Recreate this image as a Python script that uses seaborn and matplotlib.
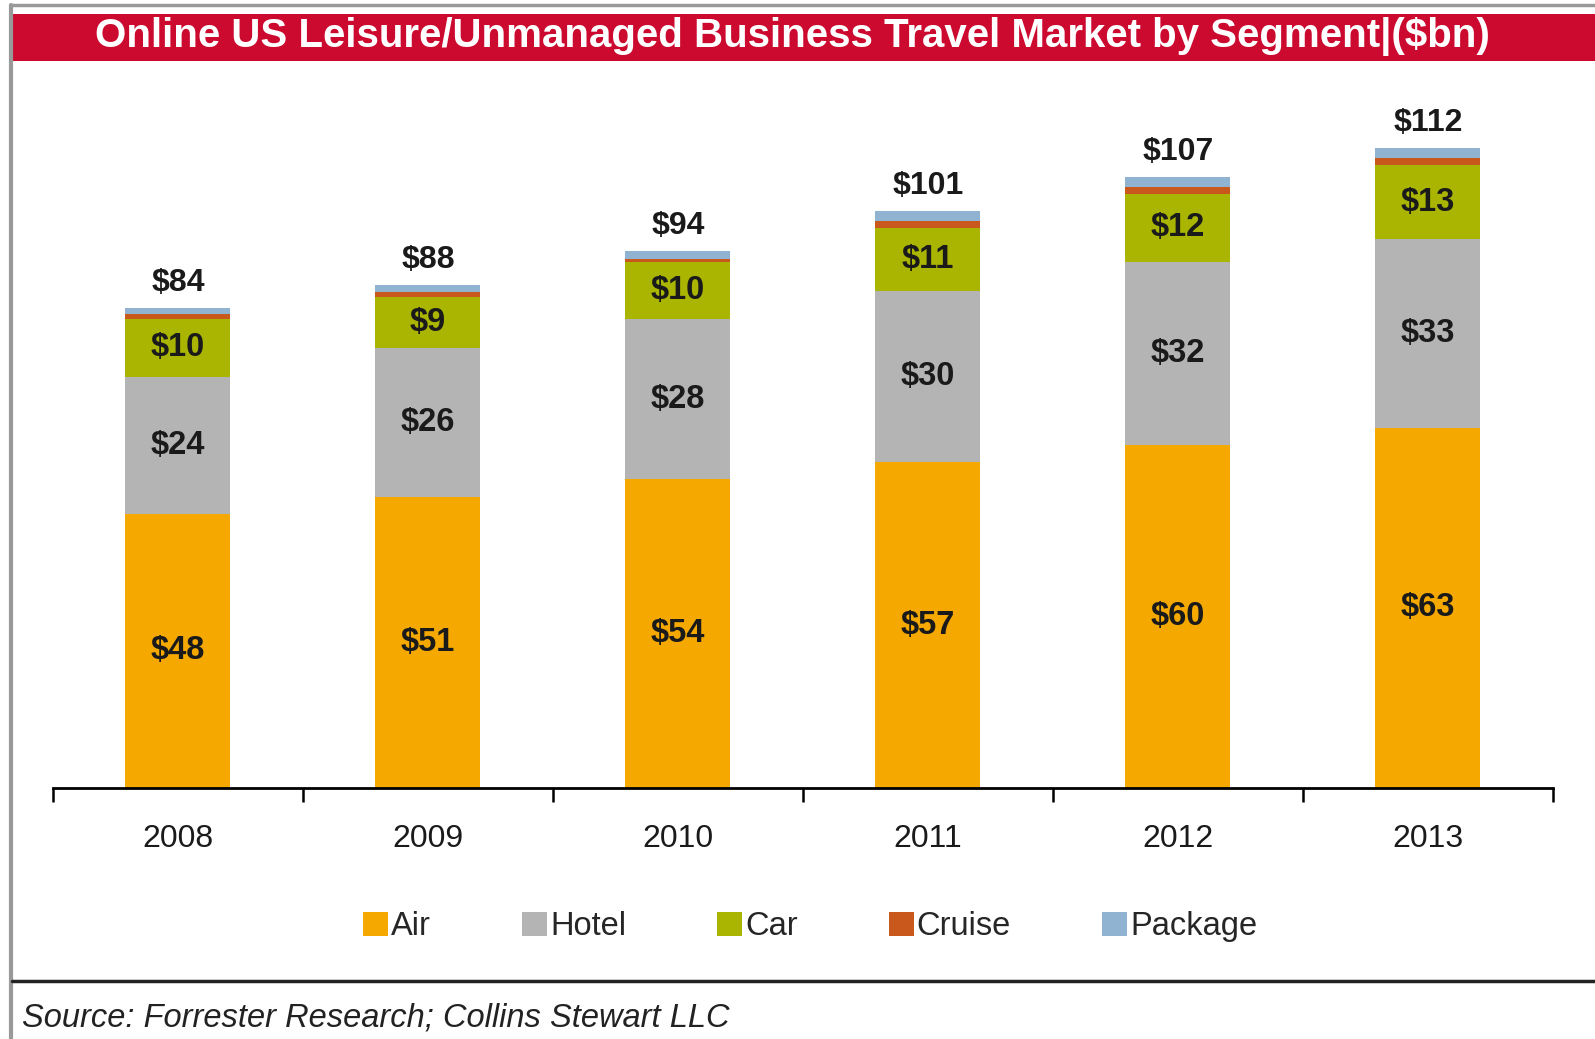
import numpy as np
import pandas as pd
import seaborn as sns
import matplotlib
matplotlib.use('Agg')
import matplotlib.pyplot as plt
from matplotlib.patches import Patch, Rectangle
from matplotlib.lines import Line2D

# data ($bn)
years = ['2008', '2009', '2010', '2011', '2012', '2013']
air = [48, 51, 54, 57, 60, 63]
hotel = [24, 26, 28, 30, 32, 33]
car = [10, 9, 10, 11, 12, 13]
cruise = [0.9, 0.8, 0.5, 1.3, 1.2, 1.3]
package = [1.1, 1.2, 1.5, 1.7, 1.8, 1.7]
totals = [84, 88, 94, 101, 107, 112]

segments = ['Air', 'Hotel', 'Car', 'Cruise', 'Package']
colors = ['#F5A900', '#B4B4B4', '#A9B500', '#C8581B', '#90B3D2']

sns.set_style('white')
plt.rcParams['font.family'] = ['Liberation Sans', 'DejaVu Sans']

df = pd.DataFrame({'Year': years, 'Air': air, 'Hotel': hotel, 'Car': car,
                   'Cruise': cruise, 'Package': package})
cum = df[segments].cumsum(axis=1)

fig = plt.figure(figsize=(15.95, 10.39), dpi=100)
ax = fig.add_axes([0.0332, 0.2416, 0.9404, 0.660])

# stacked bars: draw cumulative heights from top segment down
for seg, col in reversed(list(zip(segments, colors))):
    sns.barplot(x=df['Year'], y=cum[seg], color=col, width=0.42, saturation=1,
                linewidth=0, ax=ax)

ax.set_xlim(-0.5, 5.5)
ax.set_ylim(0, 120)
ax.set_xlabel('')
ax.set_ylabel('')
ax.set_yticks([])
for s in ['top', 'right', 'left']:
    ax.spines[s].set_visible(False)
ax.spines['bottom'].set_color('black')
ax.spines['bottom'].set_linewidth(2)
ax.tick_params(axis='x', which='major', length=0, labelsize=23, pad=26, labelcolor='#1a1a1a')
ax.set_xticks(np.arange(-0.5, 6, 1), minor=True)
ax.tick_params(axis='x', which='minor', bottom=True, length=10, width=1.8,
               direction='out', color='black')

# segment labels
for i in range(len(years)):
    base = 0
    for seg in ['Air', 'Hotel', 'Car']:
        v = df[seg][i]
        ax.text(i, base + v / 2, '$' + str(v), ha='center', va='center',
                fontsize=23.5, fontweight='bold', color='#1a1a1a')
        base += v
    ax.text(i, cum['Package'][i] + 1.7, '$' + str(totals[i]), ha='center', va='bottom',
            fontsize=23, fontweight='bold', color='#1a1a1a')

# legend
handles = [Patch(facecolor=c, edgecolor='none', label=l) for l, c in zip(segments, colors)]
fig.legend(handles=handles, loc='center', bbox_to_anchor=(0.508, 0.108), ncol=5,
           frameon=False, fontsize=23.5, handlelength=0.75, handleheight=0.75,
           handletextpad=0.1, columnspacing=2.8)

# frame decorations: grey borders, red title band, rule above source
fig.add_artist(Line2D([11 / 1595, 1], [1 - 5 / 1039, 1 - 5 / 1039], color='#999999', lw=2.5))
fig.add_artist(Line2D([11 / 1595, 11 / 1595], [0, 1 - 5 / 1039], color='#999999', lw=3))
fig.add_artist(Rectangle((13 / 1595, 1 - 61 / 1039), 1 - 13 / 1595, 47 / 1039,
                         transform=fig.transFigure, facecolor='#CC0A2F', edgecolor='none'))
fig.text(0.497, 1 - 37 / 1039, 'Online US Leisure/Unmanaged Business Travel Market by Segment|($bn)',
         ha='center', va='center', color='white', fontsize=29, fontweight='bold')
fig.add_artist(Line2D([12 / 1595, 1], [1 - 981 / 1039, 1 - 981 / 1039], color='#222222', lw=2.5))
fig.text(22 / 1595, 1 - 1018 / 1039, 'Source: Forrester Research; Collins Stewart LLC',
         ha='left', va='center', fontsize=23.5, style='italic', color='#222222')

fig.savefig('out.png', dpi=100)
